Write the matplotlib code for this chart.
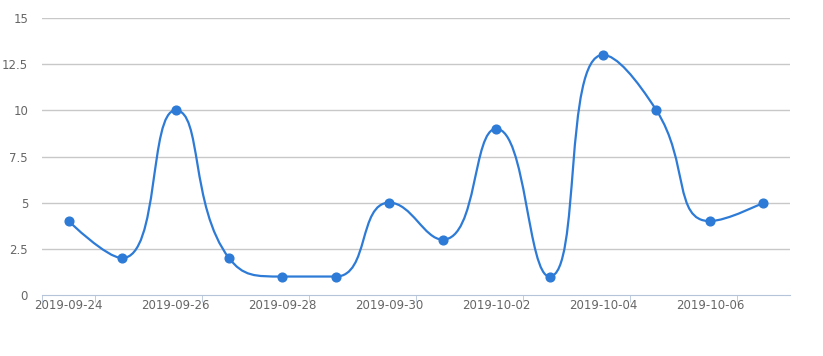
import numpy as np
import matplotlib
matplotlib.use("Agg")
from matplotlib import pyplot as plt
from matplotlib.path import Path
from matplotlib.patches import PathPatch

dates = ['2019-09-24', '2019-09-25', '2019-09-26', '2019-09-27', '2019-09-28',
         '2019-09-29', '2019-09-30', '2019-10-01', '2019-10-02', '2019-10-03',
         '2019-10-04', '2019-10-05', '2019-10-06', '2019-10-07']
values = [4, 2, 10, 2, 1, 1, 5, 3, 9, 1, 13, 10, 4, 5]
y_ticks = [0, 2.5, 5, 7.5, 10, 12.5, 15]
y_labels = ['0', '2.5', '5', '7.5', '10', '12.5', '15']

blue = '#2d7bd6'
grey = '#666666'

plt.rcParams['font.family'] = ['DejaVu Sans']
fig = plt.figure(figsize=(8.23, 3.56), dpi=100)
ax = fig.add_axes([42 / 823, 61 / 356, 748 / 823, 277 / 356])

n = len(dates)
x = np.arange(n)
ax.set_xlim(-0.5, n - 0.5)
ax.set_ylim(0, 15)


def clamp(p, a, b):
    lo = np.minimum(a, b)
    hi = np.maximum(a, b)
    return np.minimum(np.maximum(p, lo), hi)


# smoothed line, same way echarts does it (bezier, smooth 0.5, clamped control points)
sx = 748 / n
sy = 277 / 15
pts = np.column_stack([x * sx, np.array(values, float) * sy])
smooth = 0.5
verts = [pts[0]]
codes = [Path.MOVETO]
cp0 = pts[0]
for i in range(1, n):
    prev = pts[i - 1]
    cur = pts[i]
    if i == n - 1:
        in_cp = cur
        out_cp = cur
    else:
        nxt = pts[i + 1]
        v = nxt - prev
        len_prev = np.hypot(*(cur - prev))
        len_next = np.hypot(*(nxt - cur))
        ratio = len_next / (len_next + len_prev)
        out_cp = clamp(cur + v * smooth * ratio, cur, nxt)
        v = out_cp - cur
        in_cp = clamp(cur - v * len_prev / len_next, cur, prev)
        v = cur - in_cp
        out_cp = cur + v * len_next / len_prev
    verts += [cp0, in_cp, cur]
    codes += [Path.CURVE4] * 3
    cp0 = out_cp
verts = np.array(verts) / np.array([sx, sy])
ax.add_patch(PathPatch(Path(verts, codes), fill=False, edgecolor=blue, lw=1.6, zorder=3))
ax.plot(x, values, 'o', color=blue, ms=6.3, zorder=4)

for t in y_ticks[1:]:
    ax.axhline(t, color='#c8c8c8', lw=1, zorder=1)

ax.set_yticks(y_ticks)
ax.set_yticklabels(y_labels)
ax.tick_params(axis='y', length=0, pad=10, labelsize=8.5, colors=grey)

ax.set_xticks(x[::2])
ax.set_xticklabels(dates[::2])
ax.tick_params(axis='x', length=0, pad=3, labelsize=8.5, colors=grey)
ax.set_xticks([-0.5] + list(x[::2] + 0.5), minor=True)
ax.tick_params(axis='x', which='minor', length=5, color='#b5c4d8', direction='out')

for sp in ['top', 'right', 'left']:
    ax.spines[sp].set_visible(False)
ax.spines['bottom'].set_color('#b5c4d8')

fig.savefig('out.png', dpi=100)
